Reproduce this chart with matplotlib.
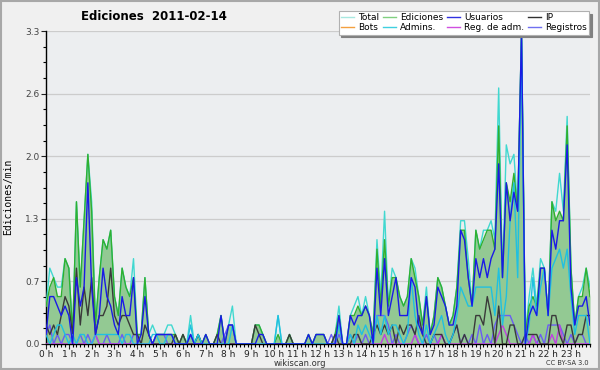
import matplotlib
matplotlib.use("Agg")
import matplotlib.pyplot as plt
from matplotlib.patches import Rectangle
from matplotlib.lines import Line2D
import numpy as np

# 10-minute bins (144 per day), values in edits per minute
total = [
    0.4, 0.8, 0.7, 0.6, 0.6, 0.9,  0.8, 0.1, 1.5, 0.6, 1.3, 2.0,
    1.5, 0.2, 0.7, 1.1, 1.0, 1.2,  0.5, 0.3, 0.8, 0.6, 0.5, 0.9,
    0.1, 0.1, 0.7, 0.1, 0.2, 0.1,  0.1, 0.1, 0.2, 0.2, 0.1, 0.0,
    0.1, 0.0, 0.3, 0.0, 0.1, 0.0,  0.1, 0.0, 0.0, 0.1, 0.3, 0.0,
    0.2, 0.4, 0.0, 0.0, 0.0, 0.0,  0.0, 0.2, 0.2, 0.1, 0.0, 0.0,
    0.0, 0.3, 0.0, 0.0, 0.1, 0.0,  0.0, 0.0, 0.0, 0.1, 0.0, 0.1,
    0.1, 0.1, 0.0, 0.0, 0.1, 0.4,  0.0, 0.0, 0.3, 0.4, 0.5, 0.3,
    0.5, 0.3, 0.1, 1.1, 0.5, 1.4,  0.4, 0.8, 0.7, 0.5, 0.4, 0.5,
    0.9, 0.8, 0.5, 0.2, 0.6, 0.1,  0.3, 0.7, 0.6, 0.4, 0.2, 0.3,
    0.6, 1.3, 1.3, 0.9, 0.4, 1.2,  1.0, 1.2, 1.2, 1.3, 1.1, 2.7,
    0.7, 2.1, 1.9, 2.0, 1.4, 3.3,  0.1, 0.5, 0.8, 0.4, 0.9, 0.8,
    0.3, 1.5, 1.4, 1.8, 1.4, 2.4,  0.8, 0.2, 0.5, 0.6, 0.8, 0.6,
]
ediciones = [
    0.4, 0.6, 0.7, 0.5, 0.5, 0.9,  0.8, 0.1, 1.5, 0.6, 1.3, 2.0,
    1.4, 0.2, 0.7, 1.1, 1.0, 1.2,  0.5, 0.3, 0.8, 0.6, 0.5, 0.7,
    0.1, 0.1, 0.7, 0.1, 0.0, 0.1,  0.1, 0.1, 0.1, 0.1, 0.1, 0.0,
    0.1, 0.0, 0.1, 0.0, 0.1, 0.0,  0.1, 0.0, 0.0, 0.1, 0.3, 0.0,
    0.2, 0.2, 0.0, 0.0, 0.0, 0.0,  0.0, 0.2, 0.2, 0.1, 0.0, 0.0,
    0.0, 0.1, 0.0, 0.0, 0.1, 0.0,  0.0, 0.0, 0.0, 0.1, 0.0, 0.1,
    0.1, 0.1, 0.0, 0.0, 0.1, 0.3,  0.0, 0.0, 0.3, 0.3, 0.4, 0.3,
    0.4, 0.3, 0.1, 1.0, 0.4, 1.1,  0.4, 0.7, 0.7, 0.5, 0.4, 0.5,
    0.9, 0.7, 0.5, 0.2, 0.5, 0.1,  0.3, 0.7, 0.6, 0.4, 0.2, 0.3,
    0.6, 1.2, 1.2, 0.7, 0.4, 1.2,  1.0, 1.1, 1.2, 1.2, 1.0, 2.3,
    0.7, 1.7, 1.5, 1.8, 1.4, 3.3,  0.1, 0.4, 0.5, 0.4, 0.8, 0.8,
    0.3, 1.5, 1.3, 1.4, 1.3, 2.3,  0.8, 0.2, 0.5, 0.5, 0.8, 0.5,
]
usuarios = [
    0.1, 0.5, 0.5, 0.4, 0.3, 0.4,  0.3, 0.0, 0.7, 0.4, 0.6, 1.7,
    0.6, 0.1, 0.3, 0.8, 0.5, 0.4,  0.2, 0.1, 0.5, 0.3, 0.3, 0.7,
    0.0, 0.1, 0.5, 0.1, 0.0, 0.1,  0.1, 0.1, 0.1, 0.1, 0.0, 0.0,
    0.0, 0.0, 0.1, 0.0, 0.0, 0.0,  0.1, 0.0, 0.0, 0.0, 0.3, 0.0,
    0.2, 0.2, 0.0, 0.0, 0.0, 0.0,  0.0, 0.0, 0.1, 0.1, 0.0, 0.0,
    0.0, 0.0, 0.0, 0.0, 0.0, 0.0,  0.0, 0.0, 0.0, 0.1, 0.0, 0.1,
    0.1, 0.1, 0.0, 0.0, 0.0, 0.3,  0.0, 0.0, 0.3, 0.2, 0.3, 0.3,
    0.4, 0.3, 0.0, 0.8, 0.3, 0.9,  0.3, 0.5, 0.7, 0.3, 0.3, 0.3,
    0.7, 0.6, 0.2, 0.1, 0.5, 0.1,  0.2, 0.6, 0.5, 0.4, 0.2, 0.2,
    0.4, 1.2, 1.1, 0.7, 0.4, 0.9,  0.7, 0.9, 0.7, 0.9, 1.0, 1.9,
    0.7, 1.7, 1.3, 1.6, 1.4, 3.3,  0.0, 0.3, 0.4, 0.3, 0.8, 0.8,
    0.3, 1.2, 1.0, 1.3, 1.3, 2.1,  0.6, 0.2, 0.4, 0.4, 0.5, 0.2,
]
ip = [
    0.2, 0.1, 0.2, 0.1, 0.3, 0.5,  0.4, 0.1, 0.8, 0.2, 0.6, 0.3,
    0.7, 0.1, 0.3, 0.3, 0.4, 0.8,  0.3, 0.2, 0.3, 0.3, 0.2, 0.1,
    0.1, 0.0, 0.2, 0.1, 0.0, 0.0,  0.0, 0.0, 0.0, 0.0, 0.1, 0.0,
    0.1, 0.0, 0.0, 0.0, 0.1, 0.0,  0.0, 0.0, 0.0, 0.1, 0.0, 0.0,
    0.0, 0.0, 0.0, 0.0, 0.0, 0.0,  0.0, 0.2, 0.1, 0.0, 0.0, 0.0,
    0.0, 0.0, 0.0, 0.0, 0.1, 0.0,  0.0, 0.0, 0.0, 0.0, 0.0, 0.0,
    0.0, 0.0, 0.0, 0.0, 0.1, 0.0,  0.0, 0.0, 0.0, 0.1, 0.1, 0.0,
    0.0, 0.0, 0.1, 0.2, 0.1, 0.2,  0.1, 0.2, 0.0, 0.2, 0.1, 0.2,
    0.2, 0.1, 0.3, 0.1, 0.0, 0.0,  0.1, 0.1, 0.1, 0.0, 0.0, 0.1,
    0.2, 0.0, 0.1, 0.0, 0.0, 0.3,  0.3, 0.2, 0.5, 0.3, 0.0, 0.4,
    0.0, 0.0, 0.2, 0.2, 0.0, 0.0,  0.1, 0.1, 0.1, 0.1, 0.0, 0.0,
    0.0, 0.3, 0.3, 0.1, 0.0, 0.2,  0.2, 0.0, 0.1, 0.1, 0.3, 0.3,
]
bots = [0.0] * 144
admins = [
    0.1, 0.0, 0.1, 0.2, 0.2, 0.1,  0.0, 0.1, 0.0, 0.1, 0.1, 0.0,
    0.0, 0.1, 0.1, 0.1, 0.1, 0.1,  0.1, 0.1, 0.0, 0.1, 0.1, 0.0,
    0.0, 0.0, 0.0, 0.0, 0.1, 0.1,  0.0, 0.0, 0.1, 0.1, 0.0, 0.0,
    0.0, 0.0, 0.2, 0.0, 0.1, 0.0,  0.0, 0.0, 0.0, 0.0, 0.0, 0.0,
    0.0, 0.2, 0.0, 0.0, 0.0, 0.0,  0.0, 0.0, 0.0, 0.0, 0.0, 0.0,
    0.0, 0.3, 0.0, 0.0, 0.0, 0.0,  0.0, 0.0, 0.0, 0.0, 0.0, 0.0,
    0.0, 0.0, 0.0, 0.0, 0.0, 0.2,  0.0, 0.0, 0.1, 0.0, 0.2, 0.1,
    0.2, 0.1, 0.0, 0.3, 0.1, 0.3,  0.1, 0.2, 0.2, 0.1, 0.0, 0.1,
    0.7, 0.3, 0.1, 0.0, 0.2, 0.0,  0.1, 0.2, 0.3, 0.1, 0.0, 0.1,
    0.3, 0.6, 0.5, 0.4, 0.4, 0.6,  0.6, 0.6, 0.6, 0.6, 0.3, 0.8,
    0.2, 0.5, 1.3, 1.7, 0.7, 3.2,  0.0, 0.2, 0.7, 0.3, 0.6, 0.8,
    0.3, 0.8, 0.9, 1.0, 0.8, 1.0,  0.5, 0.1, 0.3, 0.3, 0.3, 0.0,
]
reg_adm = [
    0.0, 0.0, 0.0, 0.0, 0.0, 0.0,  0.0, 0.0, 0.0, 0.0, 0.0, 0.0,
    0.0, 0.1, 0.0, 0.0, 0.0, 0.0,  0.0, 0.0, 0.0, 0.0, 0.0, 0.0,
    0.0, 0.0, 0.0, 0.0, 0.0, 0.0,  0.0, 0.0, 0.0, 0.0, 0.0, 0.0,
    0.0, 0.0, 0.0, 0.0, 0.0, 0.0,  0.0, 0.0, 0.0, 0.0, 0.0, 0.0,
    0.0, 0.0, 0.0, 0.0, 0.0, 0.0,  0.0, 0.0, 0.0, 0.0, 0.0, 0.0,
    0.0, 0.0, 0.0, 0.0, 0.0, 0.0,  0.0, 0.0, 0.0, 0.0, 0.0, 0.0,
    0.0, 0.0, 0.0, 0.0, 0.0, 0.0,  0.0, 0.0, 0.0, 0.0, 0.0, 0.0,
    0.0, 0.0, 0.0, 0.0, 0.0, 0.1,  0.0, 0.0, 0.0, 0.0, 0.0, 0.0,
    0.0, 0.1, 0.0, 0.0, 0.0, 0.0,  0.0, 0.0, 0.1, 0.0, 0.0, 0.0,
    0.0, 0.0, 0.0, 0.0, 0.0, 0.0,  0.0, 0.0, 0.0, 0.0, 0.0, 0.1,
    0.2, 0.1, 0.0, 0.0, 0.0, 0.0,  0.0, 0.0, 0.1, 0.0, 0.0, 0.0,
    0.0, 0.1, 0.0, 0.2, 0.0, 0.0,  0.0, 0.0, 0.0, 0.0, 0.0, 0.0,
]
registros = [
    0.1, 0.2, 0.0, 0.1, 0.0, 0.1,  0.1, 0.0, 0.0, 0.1, 0.0, 0.1,
    0.0, 0.1, 0.0, 0.0, 0.1, 0.0,  0.0, 0.0, 0.1, 0.0, 0.0, 0.1,
    0.1, 0.0, 0.0, 0.0, 0.0, 0.1,  0.1, 0.1, 0.0, 0.0, 0.0, 0.0,
    0.0, 0.0, 0.1, 0.0, 0.0, 0.0,  0.0, 0.0, 0.0, 0.0, 0.0, 0.1,
    0.2, 0.2, 0.0, 0.0, 0.0, 0.0,  0.0, 0.0, 0.0, 0.0, 0.0, 0.0,
    0.0, 0.0, 0.0, 0.0, 0.0, 0.0,  0.0, 0.0, 0.0, 0.0, 0.0, 0.0,
    0.0, 0.0, 0.0, 0.1, 0.0, 0.1,  0.0, 0.0, 0.1, 0.0, 0.1, 0.0,
    0.1, 0.0, 0.0, 0.3, 0.3, 0.3,  0.2, 0.0, 0.1, 0.0, 0.0, 0.1,
    0.2, 0.1, 0.0, 0.0, 0.1, 0.0,  0.1, 0.0, 0.1, 0.0, 0.0, 0.1,
    0.2, 0.0, 0.1, 0.0, 0.1, 0.0,  0.2, 0.0, 0.1, 0.0, 0.2, 0.3,
    0.3, 0.3, 0.3, 0.2, 0.1, 0.0,  0.1, 0.0, 0.1, 0.0, 0.1, 0.0,
    0.2, 0.2, 0.2, 0.2, 0.1, 0.0,  0.1, 0.0, 0.1, 0.1, 0.0, 0.0,
]
hour_labels = [f"{h} h" for h in range(24)]
y_ticks = [0.0, 0.66, 1.32, 1.98, 2.64, 3.3]
y_labels = ["0.0", "0.7", "1.3", "2.0", "2.6", "3.3"]

x = np.arange(len(ediciones))

fig = plt.figure(figsize=(6.0, 3.7), dpi=100, facecolor="#f0f0f0")
fig.patches.append(Rectangle((0.001, 0.002), 0.997, 0.995, transform=fig.transFigure,
                             fill=False, edgecolor="#a8a8a8", lw=1.5))
ax = fig.add_axes([0.0767, 0.0703, 0.9066, 0.8457])
ax.set_facecolor("#eceef0")

ax.fill_between(x, 0, ediciones, color="#93c993", lw=0, zorder=1)
lw = 1.0
ax.plot(x, bots, color="#f4a040", lw=lw, zorder=2)
ax.plot(x, total, color="#40d8d0", lw=lw, zorder=3)
ax.plot(x, ediciones, color="#30b030", lw=lw, zorder=4)
ax.plot(x, registros, color="#6a5cf4", lw=lw, zorder=5)
ax.plot(x, reg_adm, color="#c040e0", lw=lw, zorder=6)
ax.plot(x, ip, color="#3a3a3a", lw=lw, zorder=7)
ax.plot(x, admins, color="#20c0e0", lw=lw, zorder=8)
ax.plot(x, usuarios, color="#1a1ae6", lw=lw, zorder=9)

ax.set_xlim(0, 143)
ax.set_ylim(0, 3.3)
ax.set_xticks(np.arange(0, 144, 6))
ax.set_xticklabels(hour_labels)
ax.set_xticks(np.arange(0, 144, 1), minor=True)
ax.set_yticks(y_ticks)
ax.set_yticklabels(y_labels)
ax.set_yticks(np.arange(0, 3.31, 0.165), minor=True)
ax.tick_params(axis="both", which="major", labelsize=6.5, colors="#222222", length=3.5, width=0.8, pad=1)
ax.tick_params(axis="both", which="minor", length=2.5, width=0.8)
ax.tick_params(axis="y", labelcolor="#444444")
ax.grid(axis="y", color="#cccccc", lw=0.9)
ax.set_axisbelow(True)
for s in ("top", "right"):
    ax.spines[s].set_visible(False)
for s in ("left", "bottom"):
    ax.spines[s].set_linewidth(1.0)
    ax.spines[s].set_color("#000000")

ax.set_ylabel("Ediciones/min", fontsize=7, labelpad=7, family="DejaVu Sans Mono")
ax.yaxis.set_label_coords(-0.06, 0.47)
fig.text(0.257, 0.955, "Ediciones  2011-02-14", fontsize=8.5, fontweight="bold",
         ha="center", va="center")
fig.text(0.5, 0.018, "wikiscan.org", fontsize=6, ha="center", va="center", color="#333333")
fig.text(0.945, 0.018, "CC BY-SA 3.0", fontsize=4.8, ha="center", va="center", color="#333333")

handles_spec = [
    ("Total", "#a8e8e0"), ("Bots", "#f4a040"),
    ("Ediciones", "#80d080"), ("Admins.", "#40d0e0"),
    ("Usuarios", "#3030e0"), ("Reg. de adm.", "#d050e0"),
    ("IP", "#303030"), ("Registros", "#7070f0"),
]
handles = [Line2D([], [], color=c, lw=1.0) for _, c in handles_spec]
labels = [n for n, _ in handles_spec]
leg = fig.legend(handles, labels, ncol=4, loc="upper right", bbox_to_anchor=(0.982, 0.97),
                 fontsize=6.5, frameon=True, fancybox=False, shadow={"color": "#808080", "alpha": 1.0},
                 borderpad=0.25, labelspacing=0.12, handletextpad=0.45, columnspacing=0.35,
                 handlelength=1.5, borderaxespad=0)
leg.get_frame().set_facecolor("white")
leg.get_frame().set_edgecolor("#b0b0b0")
leg.get_frame().set_linewidth(0.8)

fig.savefig("out.png", dpi=100, facecolor=fig.get_facecolor())
